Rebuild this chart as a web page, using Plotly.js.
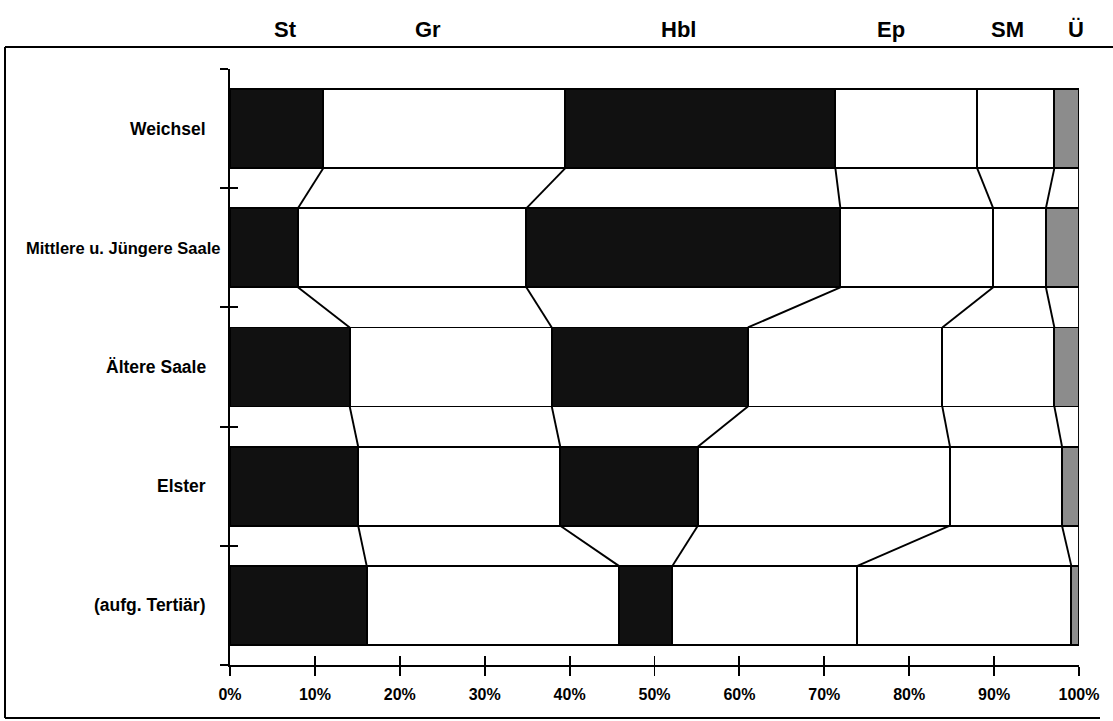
<!DOCTYPE html>
<html>
<head>
<meta charset="utf-8">
<script src="https://cdn.plot.ly/plotly-3.0.1.min.js"></script>
<style>html,body{margin:0;padding:0;background:#fff;}#chart{width:1113px;height:721px;}</style>
</head>
<body>
<div id="chart"></div>
<script>
// ---- data (percent shares) ----
const categories = ['Weichsel', 'Mittlere u. Jüngere Saale', 'Ältere Saale', 'Elster', '(aufg. Tertiär)'];
const seriesNames = ['St', 'Gr', 'Hbl', 'Ep', 'SM', 'Ü'];
const St  = [11.0,  8.0, 14.1, 15.1, 16.1];
const Gr  = [28.5, 26.9, 23.8, 23.8, 29.7];
const Hbl = [31.8, 37.0, 23.1, 16.2,  6.3];
const Ep  = [16.7, 18.0, 22.9, 29.7, 21.8];
const SM  = [ 9.1,  6.2, 13.2, 13.2, 25.2];
const U   = [ 2.9,  3.9,  2.9,  2.0,  0.9];
const xTickVals = [0, 10, 20, 30, 40, 50, 60, 70, 80, 90, 100];
const xTickLabels = ['0%', '10%', '20%', '30%', '40%', '50%', '60%', '70%', '80%', '90%', '100%'];
// header label anchor positions along the percent axis
const headerPos = [6.5, 23.3, 52.8, 77.8, 91.6, 99.6];

// ---- styling ----
const series = [St, Gr, Hbl, Ep, SM, U];
const fills = ['#111111', '#ffffff', '#111111', '#ffffff', '#ffffff', '#8c8c8c'];
const BW = 0.663;
const LW = 1.9;
const yIdx = categories.map((c, i) => i);
const yTicks = [-0.5, 0.5, 1.5, 2.5, 3.5, 4.5];
const FONT = 'Liberation Sans, Arial, Helvetica, sans-serif';

const traces = series.map((vals, k) => ({
  type: 'bar', orientation: 'h', name: seriesNames[k],
  x: vals, y: yIdx, width: BW,
  marker: {color: fills[k], line: {color: '#000', width: LW}},
  hoverinfo: 'x+name', showlegend: false
}));

// connector lines between consecutive bars at each cumulative boundary
const cum = categories.map((c, i) => {
  let s = 0; return series.map(v => (s += v[i]));
});
const cx = [], cy = [];
for (let k = 0; k < series.length; k++) {
  for (let i = 0; i < categories.length - 1; i++) {
    cx.push(cum[i][k], cum[i + 1][k], null);
    cy.push(i + BW / 2, i + 1 - BW / 2, null);
  }
}
traces.push({type: 'scatter', mode: 'lines', x: cx, y: cy,
  line: {color: '#000', width: LW}, hoverinfo: 'skip', showlegend: false});
// empty trace that activates the overlay axes (inner half of crossing ticks)
traces.push({type: 'scatter', mode: 'lines', x: [null], y: [null], xaxis: 'x2', yaxis: 'y2',
  hoverinfo: 'skip', showlegend: false});

// frame (paper coords)
const px = p => (p - 230) / 849;
const py = p => (665 - p) / 596;
const shapes = [
  {type: 'line', xref: 'paper', yref: 'paper', x0: px(5), x1: px(1113), y0: py(47), y1: py(47), line: {color: '#000', width: 2}},
  {type: 'line', xref: 'paper', yref: 'paper', x0: px(5), x1: px(5), y0: py(47), y1: py(718), line: {color: '#000', width: 2}},
  {type: 'line', xref: 'paper', yref: 'paper', x0: px(5), x1: px(1100), y0: py(718), y1: py(718), line: {color: '#000', width: 2}}
];

const annotations = [];
categories.forEach((c, i) => {
  const long = c.length > 20;
  annotations.push({text: c, xref: 'paper', yref: 'y', x: long ? px(222) : px(208), y: i,
    xanchor: 'right', yanchor: 'middle', showarrow: false,
    font: {family: FONT, size: long ? 16.5 : 17.5, weight: 'bold', color: '#000'}});
});
seriesNames.forEach((n, k) => annotations.push({text: n, xref: 'x', yref: 'paper', x: headerPos[k], y: py(29),
  xanchor: 'center', yanchor: 'middle', showarrow: false,
  font: {family: FONT, size: 22, weight: 'bold', color: '#000'}}));

const tickFont = {family: FONT, size: 16, weight: 'bold', color: '#000'};
const layout = {
  width: 1113, height: 721,
  margin: {l: 230, r: 34, t: 69, b: 56},
  paper_bgcolor: '#fff', plot_bgcolor: 'rgba(0,0,0,0)',
  barmode: 'stack', bargap: 0,
  xaxis: {range: [0, 100], tickvals: xTickVals, ticktext: xTickLabels,
    ticks: 'outside', ticklen: 9, tickwidth: LW, tickcolor: '#000',
    showgrid: false, zeroline: false, showline: true, linecolor: '#000', linewidth: LW,
    ticklabelstandoff: 5, fixedrange: true, tickfont: tickFont},
  xaxis2: {range: [0, 100], overlaying: 'x', anchor: 'y2', side: 'bottom', tickvals: xTickVals,
    ticks: 'inside', ticklen: 9, tickwidth: LW, tickcolor: '#000', showticklabels: false,
    showgrid: false, zeroline: false, showline: false, fixedrange: true},
  yaxis: {range: [4.5, -0.5], tickvals: yTicks, showticklabels: false,
    ticks: 'outside', ticklen: 8, tickwidth: LW, tickcolor: '#000',
    showgrid: false, zeroline: false, showline: true, linecolor: '#000', linewidth: LW, fixedrange: true},
  yaxis2: {range: [4.5, -0.5], overlaying: 'y', anchor: 'x2', side: 'left', tickvals: yTicks, showticklabels: false,
    ticks: 'inside', ticklen: 8, tickwidth: LW, tickcolor: '#000',
    showgrid: false, zeroline: false, showline: false, fixedrange: true},
  shapes: shapes, annotations: annotations, showlegend: false
};

Plotly.newPlot('chart', traces, layout, {displayModeBar: false, staticPlot: true});
</script>
</body>
</html>
